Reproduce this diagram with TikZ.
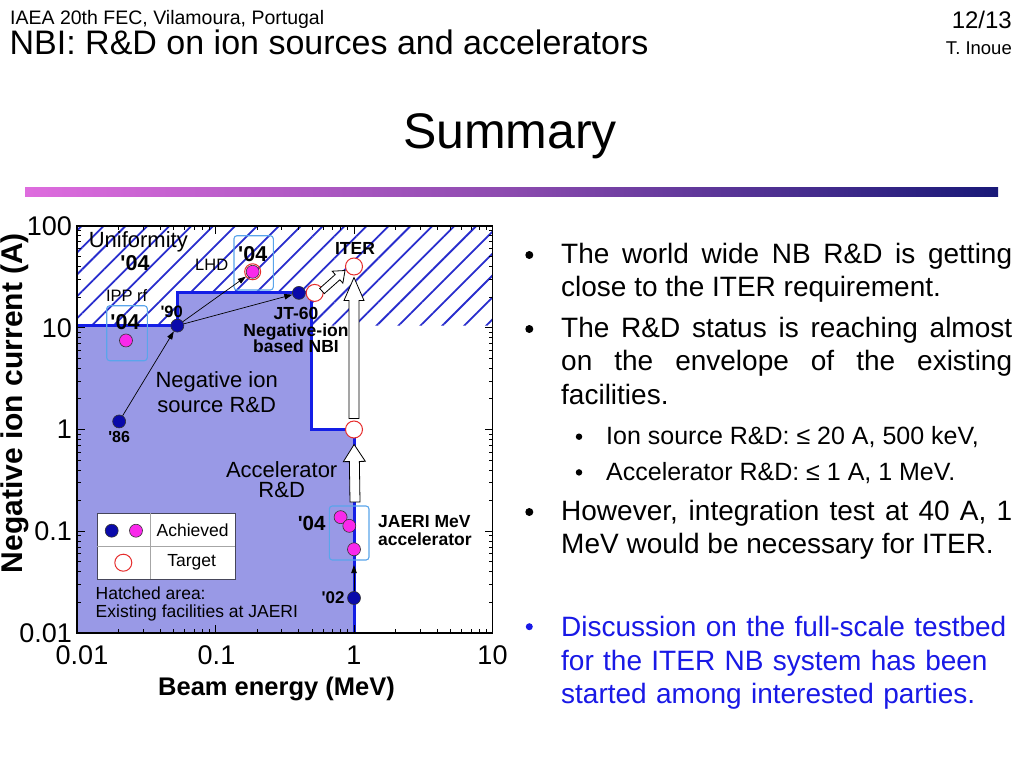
\documentclass[tikz,border=0pt]{standalone}
\usepackage{fontspec}
\setmainfont{Liberation Sans}
\usetikzlibrary{positioning,calc,arrows.meta,patterns.meta}

\definecolor{lavfill}{RGB}{153,153,230}
\definecolor{edgeblue}{RGB}{20,30,230}
\definecolor{hatchblue}{RGB}{40,45,205}
\definecolor{dotblue}{RGB}{10,10,170}
\definecolor{dotmag}{RGB}{250,40,235}
\definecolor{tgtred}{RGB}{230,45,45}
\definecolor{boxblue}{RGB}{90,165,235}
\definecolor{legendgray}{RGB}{70,70,90}
\definecolor{barpink}{RGB}{222,108,222}
\definecolor{barmid}{RGB}{140,75,175}
\definecolor{barnavy}{RGB}{25,25,120}
\definecolor{talkblue}{RGB}{25,25,230}

\newcommand{\fsz}[2]{\fontsize{#1pt}{#2pt}\selectfont}
\newcommand{\yr}[1]{\textquotesingle#1}
% hollow block arrow: head length, head half width, shaft half width, tail, tip
\newcommand{\blockarrow}[5]{%
  \draw[hollowarrow] let \p1=($(#5)-(#4)$), \n1={atan2(\y1,\x1)}, \n2={veclen(\x1,\y1)} in
    [shift={(#4)}, rotate=\n1]
    (0pt,-#3) -- ({\n2*1pt-#1},-#3) -- ({\n2*1pt-#1},-#2) -- ({\n2*1pt},0pt)
    -- ({\n2*1pt-#1},#2) -- ({\n2*1pt-#1},#3) -- (0pt,#3) -- cycle;}

\begin{document}
\begin{tikzpicture}[x=1pt, y=-1pt,
    declare function={lx(\v)=log10(\v)+2;},
    plotaxes/.style={shift={(77,633)}, x=138.5pt, y=101.75pt},
    tickline/.style={line width=0.9pt},
    ticklbl/.style={inner sep=0pt, font=\fsz{27}{32}},
    dotpt/.style={circle, draw=black!80, line width=0.6pt, inner sep=0pt, minimum size=13pt},
    bluept/.style={dotpt, fill=dotblue},
    magpt/.style={dotpt, fill=dotmag},
    tgtpt/.style={circle, draw=tgtred, line width=1pt, fill=white, inner sep=0pt, minimum size=17pt},
    thinarr/.style={line width=0.7pt, -{Triangle[length=8pt,width=5.5pt]}},
    hollowarrow/.style={draw=black, line width=0.8pt, fill=white},
    yearbox/.style={draw=boxblue, line width=1.1pt, rounded corners=3pt},
    yrlbl/.style={inner sep=0pt, font=\bfseries\fsz{16}{18}},
    yrbig/.style={inner sep=0pt, font=\bfseries\fsz{21.5}{24}},
    namelbl/.style={inner sep=0pt, font=\bfseries\fsz{17.5}{16.8}},
    plotlbl/.style={inner sep=0pt, font=\fsz{22}{25}},
    smalllbl/.style={inner sep=0pt, font=\fsz{16.5}{18}},
    item/.style={anchor=base west, inner sep=0pt, text width=451pt, align=justify, font=\fsz{28}{33.5}},
    subitem/.style={anchor=base west, inner sep=0pt, font=\fsz{25}{30}},
    bulletdot/.style={circle, fill=black, inner sep=0pt, minimum size=8pt},
    subdot/.style={circle, fill=black, inner sep=0pt, minimum size=6.5pt}]

  \useasboundingbox (0,0) rectangle (1024,768);
  \fill[white] (0,0) rectangle (1024,768);

  % Header
  \node[anchor=base west, inner sep=0pt, font=\fsz{19.5}{22}] (conf) at (10,25) {IAEA 20th FEC, Vilamoura, Portugal};
  \node[anchor=base west, inner sep=0pt, font=\fsz{34}{38}] (title) at (9.5,55) {NBI: R\&D on ion sources and accelerators};
  \node[anchor=base east, inner sep=0pt, font=\fsz{24}{28}] (page) at (1012,29) {12/13};
  \node[anchor=base east, inner sep=0pt, font=\fsz{18.5}{22}] (author) at (1012,55) {T. Inoue};
  \node[anchor=base, inner sep=0pt, font=\fsz{50}{60}] (summary) at (510,148) {Summary};
  \shade[left color=barpink, right color=barnavy, middle color=barmid] (25,187) rectangle (998,196);

  % Plot background: hatched and filled areas
  \begin{scope}[plotaxes]
    \path[pattern={Lines[angle=45,distance=15.5pt,line width=1.8pt]}, pattern color=hatchblue]
      (0,{lx(10.5)}) -- (0,4) -- (3,4) -- (3,{lx(10.5)}) -- ({lx(0.49)},{lx(10.5)})
      -- ({lx(0.49)},{lx(22)}) -- ({lx(0.053)},{lx(22)}) -- ({lx(0.053)},{lx(10.5)}) -- cycle;
    \fill[lavfill] (0,0) -- (0,{lx(10.5)}) -- ({lx(0.053)},{lx(10.5)}) -- ({lx(0.053)},{lx(22)})
      -- ({lx(0.49)},{lx(22)}) -- ({lx(0.49)},2) -- (2,2) -- (2,0) -- cycle;
    \draw[edgeblue, line width=3pt] (0,{lx(10.5)}) -- ({lx(0.053)},{lx(10.5)}) -- ({lx(0.053)},{lx(22)})
      -- ({lx(0.49)},{lx(22)}) -- ({lx(0.49)},2) -- (2,2) -- (2,0);

    % Axes frame and ticks
    \draw[line width=1.2pt] (0,0) rectangle (3,4);
    \foreach \d in {0,1,2}{
      \foreach \k in {2,...,9}{
        \pgfmathsetmacro\tk{\d+log10(\k)}
        \draw[tickline] (\tk,0) -- ++(0,4pt) (\tk,4) -- ++(0,-4pt);
      }}
    \foreach \d in {0,1,2,3}{
      \foreach \k in {2,...,9}{
        \pgfmathsetmacro\tk{\d+log10(\k)}
        \draw[tickline] (0,\tk) -- ++(4pt,0) (3,\tk) -- ++(-4pt,0);
      }}
    \foreach \d in {1,2}{\draw[tickline] (\d,0) -- ++(0,8pt) (\d,4) -- ++(0,-8pt);}
    \foreach \d in {1,2,3}{\draw[tickline] (0,\d) -- ++(8pt,0) (3,\d) -- ++(-8pt,0);}

    % Tick labels
    \foreach \v/\l/\s in {0/0.01/5,1/0.1/1,2/1/0,3/10/0}
      \node[ticklbl, anchor=base] (xl\v) at ([xshift=\s pt, yshift=-31pt]\v,0) {\l};
    \foreach \v/\l in {0/0.01,1/0.1,2/1,3/10,4/100}
      \node[ticklbl, anchor=east] (yl\v) at ([xshift=-5pt]0,\v) {\l};
  \end{scope}

  % Axis titles
  \node[anchor=base, inner sep=0pt, font=\bfseries\fsz{25.5}{30}] (xtitle) at (276.5,695) {Beam energy (MeV)};
  \node[rotate=90, inner sep=0pt, font=\bfseries\fsz{30}{36}] (ytitle) at (15,403) {Negative ion current (A)};

  % '04 boxes
  \draw[yearbox] (106.7,305.7) rectangle (147.3,360.7);
  \draw[yearbox] (234,235.7) rectangle (273.3,290);
  \draw[yearbox] (329.3,506) rectangle (369,560);

  % Legend
  \draw[draw=legendgray, fill=white, line width=1pt] (97.3,513.3) rectangle (235,579);
  \draw[gray!70, line width=0.8pt] (97.3,546) -- (235,546) (150.7,513.3) -- (150.7,579);
  \node[bluept] (lgblue) at (111.7,530.7) {};
  \node[magpt] (lgmag) at (136,530.7) {};
  \node[tgtpt] (lgtgt) at (123.3,562.7) {};
  \node[inner sep=0pt, font=\fsz{17.5}{20}] (lgach) at (192.7,530.7) {Achieved};
  \node[inner sep=0pt, font=\fsz{17.5}{20}] (lgtar) at (191.7,562.7) {Target};

  % Data points
  \begin{scope}[plotaxes]
    \node[bluept] (p86) at ({lx(0.02)},{lx(1.2)}) {};
    \node[bluept] (p90) at ({lx(0.053)},{lx(10.5)}) {};
    \node[bluept] (pjt) at ({lx(0.4)},{lx(22)}) {};
    \node[tgtpt] (tjt) at ({lx(0.52)},{lx(22)}) {};
    \node[tgtpt] (titer) at ({lx(1)},{lx(40)}) {};
    \node[tgtpt] (tone) at ({lx(1)},{lx(1)}) {};
    \node[magpt] (pipp) at ({lx(0.0225)},{lx(7.5)}) {};
    \node[magpt] (plhd) at ({lx(0.185)},{lx(35.5)}) {};
    \node[bluept] (p02) at ({lx(1)},{lx(0.022)}) {};
    \node[magpt] (pj1) at ({lx(0.8)},{lx(0.135)}) {};
    \node[magpt] (pj2) at ({lx(0.925)},{lx(0.113)}) {};
    \node[magpt] (pj3) at ({lx(1)},{lx(0.065)}) {};
  \end{scope}
  \draw[tgtred, line width=1pt] (plhd) circle (8pt);

  % Progress arrows
  \draw[thinarr] (p86) -- (p90);
  \draw[thinarr, shorten >=1.5pt] (p90) -- (plhd);
  \draw[thinarr] (p90) -- (pjt);
  \draw[thinarr, shorten >=9pt] (p02) -- (pj3);

  \coordinate (va0) at ($(tone.north)!2pt!(titer.south)$);
  \coordinate (va1) at ($(titer.south)!2pt!(tone.north)$);
  \coordinate (ab0) at (355,502);
  \coordinate (ab1) at ($(tone.south)!6pt!(ab0)$);
  \coordinate (da0) at (322,291);
  \coordinate (da1) at (345,270.5);
  \blockarrow{23pt}{10pt}{5pt}{va0}{va1}
  \blockarrow{17pt}{11pt}{5pt}{ab0}{ab1}
  \blockarrow{10pt}{8pt}{3.5pt}{da0}{da1}

  % Labels in the plot
  \node[yrlbl, below=3pt of p86] (l86) {\yr{86}};
  \node[yrlbl, font=\bfseries\fsz{16.5}{18}] (l90) at (171.7,311.7) {\yr{90}};
  \node[yrlbl, font=\bfseries\fsz{17}{18}, left=2.5pt of p02] (l02) {\yr{02}};
  \node[plotlbl] (unif) at (138.3,242) {Uniformity};
  \node[yrbig] (u04) at (135,263) {\yr{04}};
  \node[smalllbl] (ipp) at (126.7,296) {IPP rf};
  \node[yrbig] (i04) at (125,322.5) {\yr{04}};
  \node[smalllbl] (lhd) at (211.7,265) {LHD};
  \node[yrbig] (h04) at (252.7,254.3) {\yr{04}};
  \node[namelbl] (iterlbl) at (355,248.3) {ITER};
  \node[namelbl, align=center] (jtlbl) at (296,330) {JT-60\\Negative-ion\\based NBI};
  \node[plotlbl, align=center] (srclbl) at (216.7,392.5) {Negative ion\\source R\&D};
  \node[plotlbl, align=center, font=\fsz{22}{20}] (acclbl) at (281.7,479.3) {Accelerator\\R\&D};
  \node[yrbig, font=\bfseries\fsz{20.5}{24}] (j04) at (311.7,523.3) {\yr{04}};
  \node[namelbl, align=left, anchor=west, font=\bfseries\fsz{17.5}{17.6}] (jaeri) at (378,530.5) {JAERI MeV\\accelerator};
  \node[smalllbl, align=left, anchor=west, font=\fsz{17.5}{17.4}] (hatchlbl) at (95.5,603.9) {Hatched area:\\Existing facilities at JAERI};

  % Summary items
  \node[bulletdot] (d1) at (529.3,255) {};
  \node[item] (b1) at (561,263.3) {The world wide NB R\&D is getting\linebreak close to the ITER requirement.};
  \node[bulletdot] (d2) at (529.3,329) {};
  \node[item] (b2) at (561,337.3) {The R\&D status is reaching almost\linebreak on the envelope of the existing\linebreak facilities.};
  \node[subdot] (s1d) at (579,436.7) {};
  \node[subitem] (s1) at (606,444.3) {Ion source R\&D: ≤ 20 A, 500 keV,};
  \node[subdot] (s2d) at (579,472.4) {};
  \node[subitem] (s2) at (606,480) {Accelerator R\&D: ≤ 1 A, 1 MeV.};
  \node[bulletdot] (d3) at (529.3,512) {};
  \node[item] (b3) at (561,520) {However, integration test at 40 A, 1\linebreak MeV would be necessary for ITER.};
  \node[bulletdot, fill=talkblue, minimum size=7pt] (d4) at (529.3,626.7) {};
  \node[item, align=left, text=talkblue] (b4) at (561,636.7) {Discussion on the full-scale testbed\\for the ITER NB system has been\\started among interested parties.};
\end{tikzpicture}
\end{document}
